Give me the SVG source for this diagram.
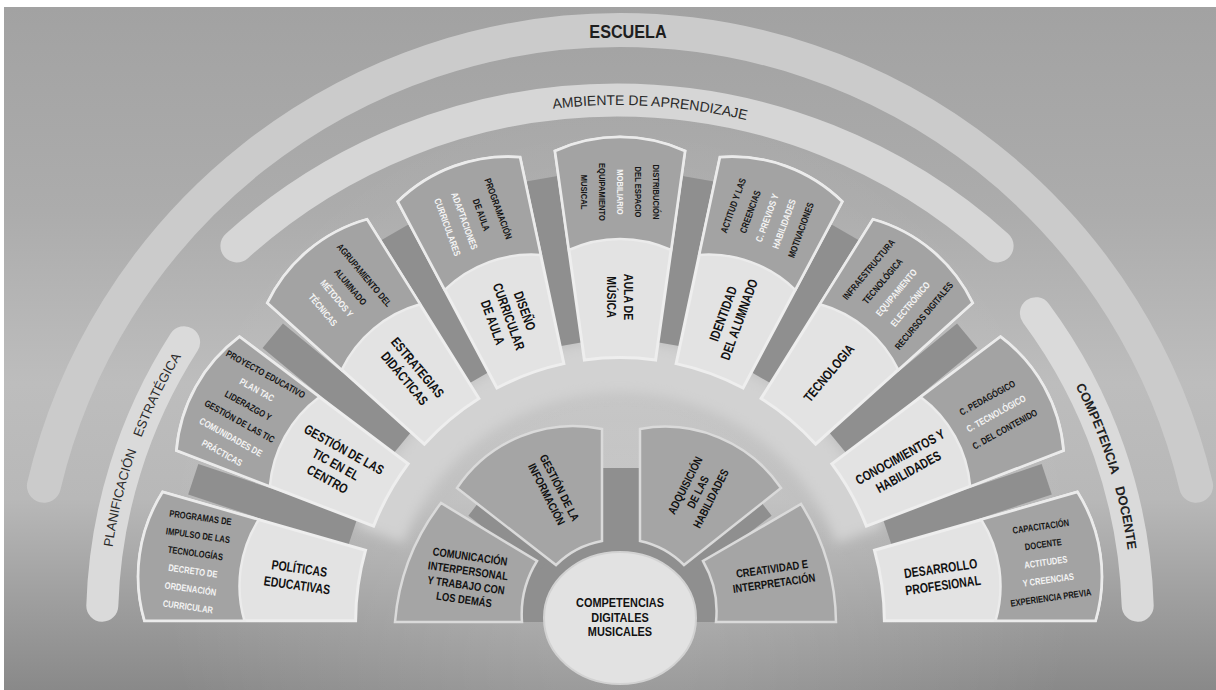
<svg xmlns="http://www.w3.org/2000/svg" width="1216" height="690" viewBox="0 0 1216 690">
<defs>
<linearGradient id="bg" x1="0" y1="0" x2="0" y2="1">
<stop offset="0" stop-color="#a2a2a2"/>
<stop offset="0.3" stop-color="#acacac"/>
<stop offset="0.55" stop-color="#bdbdbd"/>
<stop offset="0.72" stop-color="#b8b8b8"/>
<stop offset="0.86" stop-color="#a0a0a0"/>
<stop offset="1" stop-color="#898989"/>
</linearGradient>
<radialGradient id="glow" cx="620" cy="560" r="460" gradientUnits="userSpaceOnUse">
<stop offset="0" stop-color="#ffffff" stop-opacity="0.22"/>
<stop offset="1" stop-color="#ffffff" stop-opacity="0"/>
</radialGradient>
<filter id="soft" x="-10%" y="-10%" width="120%" height="120%"><feGaussianBlur stdDeviation="6"/></filter>
<path id="boxL" d="M -35.6,-262 L -65,-471 A 158 158 0 0 1 65,-471 L 35.6,-262 A 264.4 264.4 0 0 0 -35.6,-262 Z"/>
<path id="boxD" d="M -65,-471 A 158 158 0 0 1 65,-471 L 51.1,-372 A 124 124 0 0 0 -51.1,-372 Z"/>
<rect id="spoke" x="-16" y="-450" width="32" height="168"/>
<path id="tpA" d="M 240.3,249.6 A 563 563 0 0 1 993.7,249.6"/>
<path id="tpP" d="M 107.3,605.9 A 513 513 0 0 1 188.3,344.9"/>
<path id="tpC" d="M 1031.8,316.1 A 513 513 0 0 1 1132.7,605.9"/>
</defs>
<style>
.band{fill:none;stroke-linecap:round}
.bl{fill:#e3e3e3;stroke:#eeeeee;stroke-width:3}
.bd{fill:#a3a3a3;stroke:#ebebeb;stroke-width:2.5}
.sp{fill:#8f8f8f}
.ib{fill:#a5a5a5;stroke:#dadada;stroke-width:2.5}
.t{font-family:'Liberation Sans',Arial,sans-serif;font-weight:bold;font-size:13.5px;fill:#111;text-anchor:middle}
.i{font-family:'Liberation Sans',Arial,sans-serif;font-weight:bold;font-size:9.5px;fill:#161616;text-anchor:middle}
.n{font-size:11.5px}
.c{font-size:13px}
.w{fill:#f4f4f4}
.arc{font-family:'Liberation Sans',Arial,sans-serif;fill:#2a2a2a;text-anchor:middle}
</style>
<rect width="1216" height="690" fill="#ffffff"/>
<rect x="4" y="7" width="1212" height="683" fill="url(#bg)"/>
<rect x="4" y="7" width="1212" height="683" fill="url(#glow)"/>

<g id="escuela">
<path class="band" d="M 43.9,485.8 A 592 592 0 0 1 1196.1,485.8" stroke="#cbcbcb" stroke-width="34"/>
<text class="arc" x="0" y="0" transform="translate(628 38) scale(0.9 1)" style="font-weight:bold;font-size:18px;fill:#1e1e1e">ESCUELA</text>
</g>
<g id="ambiente">
<path class="band" d="M 236.9,245.9 A 568 568 0 0 1 997.1,245.9" stroke="#d6d6d6" stroke-width="33"/>
<text class="arc" style="font-size:14px"><textPath href="#tpA" startOffset="445.7">AMBIENTE DE APRENDIZAJE</textPath></text>
</g>
<g id="planificacion">
<path class="band" d="M 102.3,605.7 A 518 518 0 0 1 184.1,342.2" stroke="#dadada" stroke-width="32"/>
<text class="arc" style="font-size:13px;word-spacing:10px"><textPath href="#tpP" startOffset="161">PLANIFICACIÓN ESTRATÉGICA</textPath></text>
</g>
<g id="competencia">
<path class="band" d="M 1035.9,313.2 A 518 518 0 0 1 1137.7,605.7" stroke="#dadada" stroke-width="32"/>
<text class="arc" style="font-size:13px;font-weight:bold;word-spacing:10px;fill:#222"><textPath href="#tpC" startOffset="169">COMPETENCIA DOCENTE</textPath></text>
</g>

<path id="ring" d="M 356.9,526.2 A 280 280 0 0 1 882.9,526.2 L 836.1,543.3 A 230 230 0 0 0 403.9,543.3 Z" fill="#d2d2d2" filter="url(#soft)"/>

<g id="connectors">
<use href="#spoke" class="sp" transform="translate(620 622) rotate(-71.5)"/>
<use href="#spoke" class="sp" transform="translate(620 622) rotate(-50.5)"/>
<use href="#spoke" class="sp" transform="translate(620 622) rotate(-30)"/>
<use href="#spoke" class="sp" transform="translate(620 622) rotate(-10)"/>
<use href="#spoke" class="sp" transform="translate(620 622) rotate(10)"/>
<use href="#spoke" class="sp" transform="translate(620 622) rotate(30)"/>
<use href="#spoke" class="sp" transform="translate(620 622) rotate(50.5)"/>
<use href="#spoke" class="sp" transform="translate(620 622) rotate(71.5)"/>
<path d="M 514,622 A 106 106 0 0 1 726,622 Z" class="sp"/>
<rect x="-8" y="-185" width="16" height="90" class="sp" transform="translate(620 622) rotate(-52.5)"/>
<rect x="-8" y="-185" width="16" height="90" class="sp" transform="translate(620 622) rotate(52.5)"/>
<rect x="601" y="468" width="40" height="90" class="sp"/>
</g>

<g id="politicas">
<use href="#boxL" class="bl" transform="translate(620 622) rotate(-82)"/>
<use href="#boxD" class="bd" transform="translate(620 622) rotate(-82)"/>
<g transform="translate(298.2 576.8) rotate(8) scale(0.78 1)"><text class="t"><tspan x="0" y="-3.8">POLÍTICAS</tspan><tspan x="0" y="13.2">EDUCATIVAS</tspan></text></g>
<g transform="translate(194.2 562.1) rotate(8) scale(0.8 1)"><text class="i"><tspan x="0" y="-41.7">PROGRAMAS DE</tspan><tspan x="0" y="-23.7">IMPULSO DE LAS</tspan><tspan x="0" y="-5.7">TECNOLOGÍAS</tspan><tspan x="0" y="12.3" class="w">DECRETO DE</tspan><tspan x="0" y="30.3" class="w">ORDENACIÓN</tspan><tspan x="0" y="48.3" class="w">CURRICULAR</tspan></text></g>
</g>

<g id="gestion-tic">
<use href="#boxL" class="bl" transform="translate(620 622) rotate(-61)"/>
<use href="#boxD" class="bd" transform="translate(620 622) rotate(-61)"/>
<g transform="translate(335.8 464.4) rotate(29) scale(0.78 1)"><text class="t"><tspan x="0" y="-12.3">GESTIÓN DE LAS</tspan><tspan x="0" y="4.7">TIC EN EL</tspan><tspan x="0" y="21.7">CENTRO</tspan></text></g>
<g transform="translate(243.9 413.5) rotate(29) scale(0.8 1)"><text class="i"><tspan x="0" y="-41.7">PROYECTO EDUCATIVO</tspan><tspan x="0" y="-23.7" class="w">PLAN TAC</tspan><tspan x="0" y="-5.7">LIDERAZGO Y</tspan><tspan x="0" y="12.3">GESTIÓN DE LAS TIC</tspan><tspan x="0" y="30.3" class="w">COMUNIDADES DE</tspan><tspan x="0" y="48.3" class="w">PRÁCTICAS</tspan></text></g>
</g>

<g id="estrategias">
<use href="#boxL" class="bl" transform="translate(620 622) rotate(-40)"/>
<use href="#boxD" class="bd" transform="translate(620 622) rotate(-40)"/>
<g transform="translate(411.1 373) rotate(50) scale(0.78 1)"><text class="t"><tspan x="0" y="-3.8">ESTRATEGIAS</tspan><tspan x="0" y="13.2">DIDÁCTICAS</tspan></text></g>
<g transform="translate(343.6 292.6) rotate(50) scale(0.8 1)"><text class="i"><tspan x="0" y="-23.7">AGRUPAMIENTO DEL</tspan><tspan x="0" y="-5.7">ALUMNADO</tspan><tspan x="0" y="12.3" class="w">MÉTODOS Y</tspan><tspan x="0" y="30.3" class="w">TÉCNICAS</tspan></text></g>
</g>

<g id="diseno">
<use href="#boxL" class="bl" transform="translate(620 622) rotate(-20)"/>
<use href="#boxD" class="bd" transform="translate(620 622) rotate(-20)"/>
<g transform="translate(508.8 316.6) rotate(70) scale(0.78 1)"><text class="t"><tspan x="0" y="-12.3">DISEÑO</tspan><tspan x="0" y="4.7">CURRICULAR</tspan><tspan x="0" y="21.7">DE AULA</tspan></text></g>
<g transform="translate(472.9 217.9) rotate(70) scale(0.8 1)"><text class="i"><tspan x="0" y="-23.7">PROGRAMACIÓN</tspan><tspan x="0" y="-5.7">DE AULA</tspan><tspan x="0" y="12.3" class="w">ADAPTACIONES</tspan><tspan x="0" y="30.3" class="w">CURRICULARES</tspan></text></g>
</g>

<g id="aula">
<use href="#boxL" class="bl" transform="translate(620 622)"/>
<use href="#boxD" class="bd" transform="translate(620 622)"/>
<g transform="translate(620 297) rotate(90) scale(0.78 1)"><text class="t"><tspan x="0" y="-3.8">AULA DE</tspan><tspan x="0" y="13.2">MÚSICA</tspan></text></g>
<g transform="translate(620 192) rotate(90) scale(0.8 1)"><text class="i"><tspan x="0" y="-32.7">DISTRIBUCIÓN</tspan><tspan x="0" y="-14.7">DEL ESPACIO</tspan><tspan x="0" y="3.3" class="w">MOBILIARIO</tspan><tspan x="0" y="21.3">EQUIPAMIENTO</tspan><tspan x="0" y="39.3">MUSICAL</tspan></text></g>
</g>

<g id="identidad">
<use href="#boxL" class="bl" transform="translate(620 622) rotate(20)"/>
<use href="#boxD" class="bd" transform="translate(620 622) rotate(20)"/>
<g transform="translate(731.2 316.6) rotate(-70) scale(0.78 1)"><text class="t"><tspan x="0" y="-3.8">IDENTIDAD</tspan><tspan x="0" y="13.2">DEL ALUMNADO</tspan></text></g>
<g transform="translate(767.1 217.9) rotate(-70) scale(0.8 1)"><text class="i"><tspan x="0" y="-32.7">ACTITUD Y LAS</tspan><tspan x="0" y="-14.7">CREENCIAS</tspan><tspan x="0" y="3.3" class="w">C. PREVIOS Y</tspan><tspan x="0" y="21.3" class="w">HABILIDADES</tspan><tspan x="0" y="39.3">MOTIVACIONES</tspan></text></g>
</g>

<g id="tecnologia">
<use href="#boxL" class="bl" transform="translate(620 622) rotate(40)"/>
<use href="#boxD" class="bd" transform="translate(620 622) rotate(40)"/>
<g transform="translate(828.9 373) rotate(-50) scale(0.78 1)"><text class="t"><tspan x="0" y="4.7">TECNOLOGIA</tspan></text></g>
<g transform="translate(896.4 292.6) rotate(-50) scale(0.8 1)"><text class="i"><tspan x="0" y="-32.7">INFRAESTRUCTURA</tspan><tspan x="0" y="-14.7">TECNOLÓGICA</tspan><tspan x="0" y="3.3" class="w">EQUIPAMIENTO</tspan><tspan x="0" y="21.3" class="w">ELECTRÓNICO</tspan><tspan x="0" y="39.3">RECURSOS DIGITALES</tspan></text></g>
</g>

<g id="conocimientos">
<use href="#boxL" class="bl" transform="translate(620 622) rotate(61)"/>
<use href="#boxD" class="bd" transform="translate(620 622) rotate(61)"/>
<g transform="translate(904.2 464.4) rotate(-29) scale(0.78 1)"><text class="t"><tspan x="0" y="-3.8">CONOCIMIENTOS Y</tspan><tspan x="0" y="13.2">HABILIDADES</tspan></text></g>
<g transform="translate(996.1 413.5) rotate(-29) scale(0.8 1)"><text class="i"><tspan x="0" y="-14.7">C. PEDAGÓGICO</tspan><tspan x="0" y="3.3" class="w">C. TECNOLÓGICO</tspan><tspan x="0" y="21.3">C. DEL CONTENIDO</tspan></text></g>
</g>

<g id="desarrollo">
<use href="#boxL" class="bl" transform="translate(620 622) rotate(82)"/>
<use href="#boxD" class="bd" transform="translate(620 622) rotate(82)"/>
<g transform="translate(941.8 576.8) rotate(-8) scale(0.78 1)"><text class="t"><tspan x="0" y="-3.8">DESARROLLO</tspan><tspan x="0" y="13.2">PROFESIONAL</tspan></text></g>
<g transform="translate(1045.8 562.1) rotate(-8) scale(0.8 1)"><text class="i"><tspan x="0" y="-32.7">CAPACITACIÓN</tspan><tspan x="0" y="-14.7">DOCENTE</tspan><tspan x="0" y="3.3" class="w">ACTITUDES</tspan><tspan x="0" y="21.3" class="w">Y CREENCIAS</tspan><tspan x="0" y="39.3">EXPERIENCIA PREVIA</tspan></text></g>
</g>

<g id="comunicacion">
<path class="ib" d="M 522,622 L 395,622 A 225 225 0 0 1 441,503 L 537,561 A 101 101 0 0 0 522,622 Z"/>
<g transform="translate(467 578) rotate(8) scale(0.82 1)"><text class="t n"><tspan x="0" y="-17.75">COMUNICACIÓN</tspan><tspan x="0" y="-3.25">INTERPERSONAL</tspan><tspan x="0" y="11.25">Y TRABAJO CON</tspan><tspan x="0" y="25.75">LOS DEMÁS</tspan></text></g>
</g>
<g id="gestion-informacion">
<path class="ib" d="M 457,488 A 140 140 0 0 1 602,429 L 602,541 A 88 88 0 0 0 556,565 Z"/>
<g transform="translate(553 491) rotate(63) scale(0.82 1)"><text class="t n"><tspan x="0" y="-3.25">GESTIÓN DE LA</tspan><tspan x="0" y="11.25">INFORMACIÓN</tspan></text></g>
</g>
<g id="adquisicion">
<path class="ib" d="M 781,488 A 140 140 0 0 0 640,429 L 640,541 A 88 88 0 0 1 684,565 Z"/>
<g transform="translate(698 492) rotate(-63) scale(0.82 1)"><text class="t n"><tspan x="0" y="-10.5">ADQUISICIÓN</tspan><tspan x="0" y="4">DE LAS</tspan><tspan x="0" y="18.5">HABILIDADES</tspan></text></g>
</g>
<g id="creatividad">
<path class="ib" d="M 716,622 L 836,622 A 225 225 0 0 0 801,504 L 703,561 A 101 101 0 0 1 716,622 Z"/>
<g transform="translate(773 576) rotate(-8) scale(0.82 1)"><text class="t n"><tspan x="0" y="-3.25">CREATIVIDAD E</tspan><tspan x="0" y="11.25">INTERPRETACIÓN</tspan></text></g>
</g>

<g id="centro">
<ellipse cx="620" cy="618" rx="76" ry="66" fill="#e2e2e2" stroke="#d2d2d2" stroke-width="2"/>
<g transform="translate(620 617) scale(0.84 1)"><text class="t c"><tspan x="0" y="-10">COMPETENCIAS</tspan><tspan x="0" y="4.5">DIGITALES</tspan><tspan x="0" y="19">MUSICALES</tspan></text></g>
</g>
</svg>
